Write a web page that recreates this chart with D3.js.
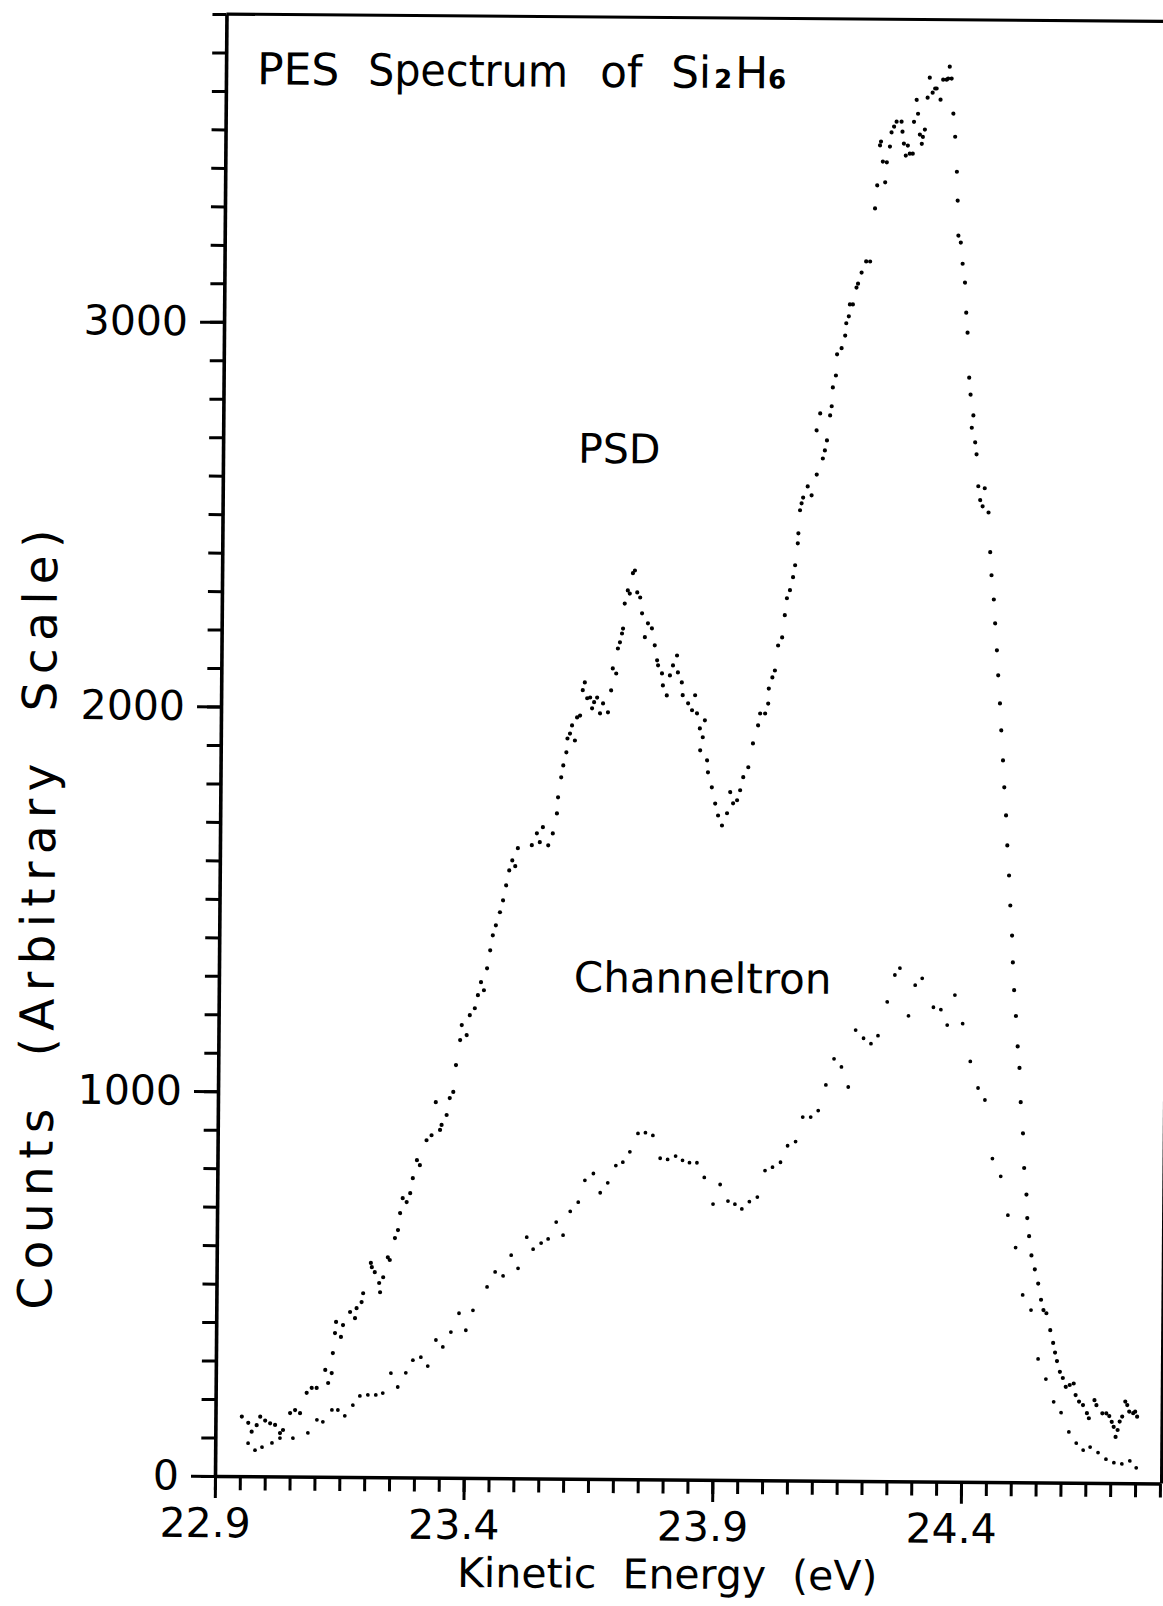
<!DOCTYPE html>
<html>
<head>
<meta charset="utf-8">
<script src="https://cdn.jsdelivr.net/npm/d3@7"></script>
<style>
  html, body { margin: 0; padding: 0; background: #fff; }
  svg { display: block; }
  text { font-family: "DejaVu Sans", sans-serif; fill: #000; }
</style>
</head>
<body>
<svg id="chart" width="1163" height="1606"></svg>
<script>
// Axis ticks
const energyTicks = [22.9, 23.4, 23.9, 24.4];
const countTicks = [0, 1000, 2000, 3000];

// PSD detector: kinetic energy (eV) and counts
const psdEnergy = [
  22.953,22.966,22.973,22.983,22.990,23.000,23.010,23.020,23.030,23.036,
  23.050,23.060,23.070,23.083,23.093,23.103,23.120,23.126,23.133,23.135,
  23.139,23.141,23.151,23.155,23.169,23.179,23.182,23.192,23.195,23.210,
  23.212,23.218,23.227,23.229,23.235,23.244,23.248,23.258,23.264,23.268,
  23.273,23.281,23.288,23.293,23.301,23.307,23.320,23.330,23.338,23.347,
  23.350,23.360,23.366,23.373,23.378,23.386,23.389,23.399,23.405,23.415,
  23.421,23.427,23.433,23.439,23.445,23.450,23.456,23.464,23.470,23.476,
  23.482,23.488,23.494,23.499,23.527,23.537,23.543,23.549,23.560,23.569,
  23.577,23.579,23.585,23.589,23.595,23.597,23.602,23.606,23.612,23.616,
  23.622,23.627,23.631,23.636,23.642,23.646,23.650,23.656,23.662,23.668,
  23.678,23.684,23.687,23.694,23.697,23.701,23.705,23.707,23.710,23.716,
  23.720,23.726,23.730,23.735,23.741,23.745,23.751,23.757,23.765,23.771,
  23.776,23.778,23.786,23.788,23.796,23.802,23.808,23.816,23.818,23.826,
  23.828,23.839,23.847,23.853,23.857,23.863,23.869,23.873,23.864,23.878,
  23.880,23.888,23.895,23.901,23.909,23.919,23.925,23.931,23.939,23.945,
  23.951,23.961,23.970,23.980,23.984,23.994,24.000,24.001,24.008,24.013,
  24.019,24.027,24.032,24.036,24.042,24.048,24.052,24.057,24.058,24.061,
  24.064,24.067,24.076,24.084,24.094,24.093,24.100,24.106,24.110,24.114,
  24.120,24.123,24.125,24.131,24.133,24.142,24.149,24.151,24.156,24.158,
  24.164,24.171,24.174,24.181,24.190,24.198,24.207,24.211,24.216,24.218,
  24.222,24.227,24.230,24.236,24.239,24.244,24.249,24.259,24.261,24.264,
  24.268,24.272,24.276,24.282,24.284,24.289,24.292,24.296,24.300,24.302,
  24.306,24.311,24.315,24.321,24.326,24.329,24.337,24.342,24.349,24.352,
  24.359,24.355,24.363,24.367,24.371,24.373,24.375,24.380,24.384,24.389,
  24.392,24.395,24.399,24.402,24.405,24.408,24.412,24.415,24.419,24.423,
  24.428,24.432,24.440,24.444,24.447,24.452,24.455,24.459,24.462,24.466,
  24.469,24.473,24.476,24.480,24.483,24.487,24.490,24.494,24.496,24.499,
  24.503,24.507,24.511,24.514,24.519,24.522,24.527,24.529,24.533,24.538,
  24.545,24.552,24.558,24.563,24.569,24.577,24.583,24.587,24.591,24.597,
  24.603,24.609,24.617,24.625,24.629,24.636,24.644,24.652,24.656,24.667,
  24.671,24.683,24.691,24.697,24.702,24.706,24.710,24.714,24.718,24.723,
  24.729,24.733,24.737,24.745,24.749,24.753
];
const psdCounts = [
  155,139,116,133,155,145,138,134,113,121,
  165,173,165,218,231,231,278,244,270,322,
  374,403,364,395,429,413,439,455,478,557,
  546,533,505,481,520,572,565,622,643,687,
  726,716,739,778,825,812,877,890,976,904,
  917,943,987,1003,1073,1138,1177,1151,1203,1221,
  1255,1289,1268,1325,1372,1411,1437,1471,1502,1541,
  1580,1606,1591,1638,1646,1677,1654,1693,1646,1677,
  1729,1771,1823,1854,1888,1924,1937,1958,1919,1979,
  1984,2050,2070,2029,2031,2003,2019,2031,1990,2016,
  1993,2050,2107,2094,2159,2175,2198,2211,2276,2310,
  2302,2355,2362,2305,2292,2251,2189,2225,2212,2168,
  2129,2116,2095,2064,2038,2090,2116,2142,2098,2072,
  2039,2018,2000,2039,1992,1953,1930,1974,1896,1870,
  1839,1800,1758,1727,1701,1733,1788,1759,1767,1793,
  1827,1853,1915,1962,1993,1993,2019,2058,2087,2105,
  2170,2191,2249,2293,2314,2348,2379,2436,2462,2522,
  2540,2555,2584,2561,2615,2730,2774,2657,2678,2704,
  2769,2793,2842,2873,2928,2944,2977,3009,3027,3058,
  3058,3102,3112,3141,3170,3170,3308,3368,3472,3482,
  3430,3376,3428,3469,3506,3521,3534,3534,3508,3477,
  3446,3472,3451,3451,3534,3591,3555,3501,3477,3495,
  3514,3597,3649,3610,3621,3621,3592,3644,3644,3647,
  3647,3678,3556,3496,3405,3330,3239,3221,3166,3117,
  3039,2987,2870,2826,2740,2772,2702,2671,2588,2552,
  2536,2583,2520,2417,2357,2294,2232,2162,2097,2024,
  1954,1876,1806,1733,1655,1577,1499,1421,1351,1279,
  1212,1133,1077,988,907,817,748,687,640,590,
  554,517,475,448,440,396,363,338,316,288,
  272,249,254,258,228,211,202,181,168,215,
  202,181,181,174,159,146,120,138,160,173,
  212,203,186,182,186,173
];

// Channeltron detector: kinetic energy (eV) and counts
const chanEnergy = [
  22.966,22.980,22.994,23.014,23.030,23.056,23.086,23.104,23.116,23.134,
  23.146,23.160,23.176,23.190,23.206,23.222,23.236,23.252,23.266,23.282,
  23.296,23.312,23.326,23.342,23.356,23.372,23.388,23.402,23.416,23.444,
  23.460,23.476,23.492,23.506,23.523,23.536,23.552,23.566,23.582,23.596,
  23.610,23.626,23.639,23.656,23.670,23.685,23.701,23.715,23.729,23.745,
  23.760,23.775,23.790,23.805,23.821,23.835,23.849,23.864,23.879,23.897,
  23.911,23.927,23.941,23.955,23.970,23.986,24.001,24.016,24.032,24.046,
  24.062,24.076,24.092,24.107,24.122,24.138,24.153,24.167,24.181,24.197,
  24.212,24.226,24.244,24.259,24.269,24.287,24.300,24.314,24.337,24.352,
  24.365,24.380,24.396,24.412,24.428,24.442,24.458,24.475,24.490,24.506,
  24.521,24.538,24.553,24.569,24.585,24.600,24.616,24.631,24.645,24.659,
  24.675,24.691,24.707,24.723,24.739,24.752
];
const chanCounts = [
  86,68,76,87,100,100,114,148,143,174,
  174,159,187,211,214,214,219,271,235,272,
  305,313,290,358,340,379,428,384,436,497,
  536,526,580,546,627,596,612,623,667,633,
  695,719,776,794,744,770,815,824,851,899,
  901,894,835,832,841,830,824,824,786,717,
  768,725,717,705,724,736,805,814,827,870,
  881,945,945,962,1029,1097,1076,1024,1172,1151,
  1137,1158,1246,1316,1334,1210,1290,1308,1233,1227,
  1187,1265,1191,1093,1024,993,841,795,694,610,
  487,448,321,269,210,182,132,103,85,93,
  79,62,53,50,58,40
];

const frame = { left: 215, right: 1160, top: 14, bottom: 1476 };

const x = d3.scaleLinear().domain([22.9, 24.8]).range([frame.left, frame.right]);
const y = d3.scaleLinear().domain([0, 3800]).range([frame.bottom, frame.top]);

const svg = d3.select("#chart");
svg.append("rect").attr("width", 1163).attr("height", 1606).attr("fill", "#fff");

// whole plot sits slightly tilted on the page
const g = svg.append("g")
  .attr("transform", `rotate(0.45, ${frame.left}, ${frame.bottom})`);

function styleAxis(sel, lineWidth) {
  sel.attr("font-family", "DejaVu Sans").attr("font-size", 41);
  sel.selectAll(".tick line").attr("stroke", "#000").attr("stroke-width", 3);
  sel.selectAll(".domain").attr("stroke", "#000").attr("stroke-width", lineWidth);
  sel.selectAll("text").attr("fill", "#000");
}

// y axis: minor ticks every 100, major every 1000
const countMinor = d3.range(0, 3801, 100);
const yMinor = g.append("g").attr("transform", `translate(${frame.left},0)`)
  .call(d3.axisLeft(y).tickValues(countMinor).tickSize(14).tickSizeOuter(0).tickFormat(""));
styleAxis(yMinor, 3.6);
const yMajor = g.append("g").attr("transform", `translate(${frame.left},0)`)
  .call(d3.axisLeft(y).tickValues(countTicks).tickSize(24).tickPadding(12).tickSizeOuter(0).tickFormat(d3.format("d")));
yMajor.select(".domain").remove();
styleAxis(yMajor, 3.6);

// x axis: minor ticks every 0.05 eV, major every 0.5 eV
const energyMinor = d3.range(0, 39).map(i => +(22.9 + i * 0.05).toFixed(2));
const xMinor = g.append("g").attr("transform", `translate(0,${frame.bottom})`)
  .call(d3.axisBottom(x).tickValues(energyMinor).tickSize(14).tickSizeOuter(0).tickFormat(""));
styleAxis(xMinor, 3.6);
const xMajor = g.append("g").attr("transform", `translate(0,${frame.bottom})`)
  .call(d3.axisBottom(x).tickValues(energyTicks).tickSize(22).tickPadding(10).tickSizeOuter(0).tickFormat(d3.format(".1f")));
xMajor.select(".domain").remove();
styleAxis(xMajor, 3.6);
xMajor.selectAll("text").attr("dx", -10);

// top and right borders
g.append("line")
  .attr("x1", x(22.9)).attr("x2", x(24.8) + 2)
  .attr("y1", y(3800)).attr("y2", y(3800))
  .attr("stroke", "#000").attr("stroke-width", 3.2);
g.append("line")
  .attr("x1", x(24.8) + 1.5).attr("x2", x(24.8) + 1.5)
  .attr("y1", y(0)).attr("y2", y(3800))
  .attr("stroke", "#000").attr("stroke-width", 3);

// data points
g.append("g").selectAll("circle")
  .data(d3.zip(psdEnergy, psdCounts))
  .join("circle")
  .attr("cx", d => x(d[0])).attr("cy", d => y(d[1]))
  .attr("r", 2.1).attr("fill", "#000");

g.append("g").selectAll("circle")
  .data(d3.zip(chanEnergy, chanCounts))
  .join("circle")
  .attr("cx", d => x(d[0])).attr("cy", d => y(d[1]))
  .attr("r", 1.9).attr("fill", "#000");

// title
const title = g.append("text").attr("y", 84).attr("font-size", 44);
title.append("tspan").attr("x", 246).text("PES");
title.append("tspan").attr("x", 357).attr("textLength", 200).attr("lengthAdjust", "spacingAndGlyphs").text("Spectrum");
title.append("tspan").attr("x", 589).text("of");
title.append("tspan").attr("x", 660).text("Si");
title.append("tspan").attr("x", 703).attr("font-size", 26).attr("font-weight", "bold").text("2");
title.append("tspan").attr("x", 724).text("H");
title.append("tspan").attr("x", 757).attr("font-size", 26).attr("font-weight", "bold").text("6");

// series labels
g.append("text").attr("x", 570).attr("y", 460).attr("font-size", 41).text("PSD");
g.append("text").attr("x", 570).attr("y", 989).attr("font-size", 42).text("Channeltron");

// axis titles
g.append("text")
  .attr("x", 668).attr("y", 1585)
  .attr("text-anchor", "middle").attr("font-size", 41)
  .style("white-space", "pre")
  .text("Kinetic  Energy  (eV)");

g.append("text")
  .attr("transform", "translate(50,921) rotate(-90)")
  .attr("text-anchor", "middle").attr("font-size", 47)
  .attr("textLength", 780).attr("lengthAdjust", "spacing")
  .style("white-space", "pre")
  .text("Counts  (Arbitrary  Scale)");
</script>
</body>
</html>
